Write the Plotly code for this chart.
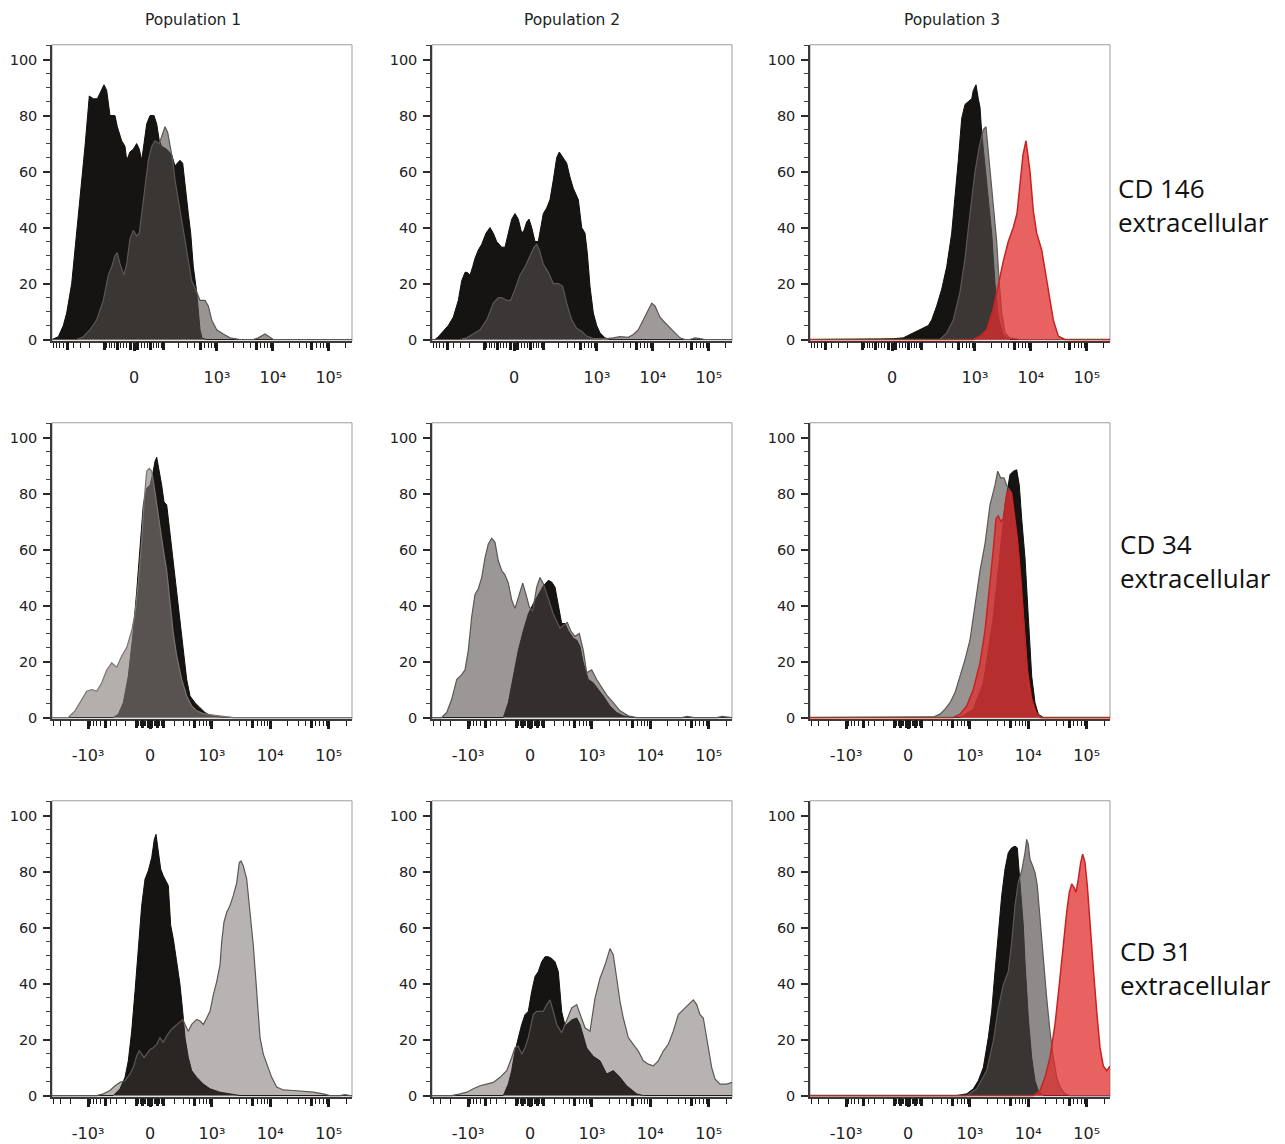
import numpy as np
import plotly.graph_objects as go

# ---------------- data (x = position on the biexponential display scale, 0-300 units; y = % of max) -------------
POP1_CD146_BLACK = [(0,0),(4,0.5),(6.3,1),(11.3,5),(14.7,9.5),(19.7,20),(24.7,38),(29.7,55),(33,69),(37.3,87),(41.3,86),(45.3,86),(49.7,89),(52,91),(54.7,89),(58,80),(63,80),(65.3,76),(69.7,71),(73,69),(74.7,64),(78,67),(81.3,68),(84.7,70),(87.3,68),(89.7,64),(92,70),(94.7,77),(98,80),(102,80),(104.7,77),(107.3,71),(109.7,69),(114.7,68),(119.7,66),(123,62),(125.3,63),(128,64),(130.7,63),(133,55),(136.3,45),(138.7,38),(141.3,26),(144.7,17),(148,3.5),(150,0.5),(155,0),(300,0)]
POP1_CD146_GRAY = [(0,0),(24.7,0),(31.3,1),(38,3.5),(44.7,7),(51.3,14),(56.3,23),(59.7,26),(63,30),(65.3,31),(68,27),(72,23),(74.7,27),(78,36),(81.3,39),(84.7,37),(87.3,38),(89.7,45),(93,55),(96.3,64),(99.7,69),(103,71),(107.3,70),(110.7,74),(113,76),(115.7,74),(118,70),(120.7,64),(123,57),(126.3,50),(129.7,43),(133,36),(136.3,29),(139.7,21),(144.7,17),(148,14),(153,14),(156.3,12),(159.7,7),(164.7,3.5),(171.3,2),(178,0.6),(188,0),(201.3,0),(206.3,0.6),(213,2),(218,0.8),(221.3,0),(300,0)]

POP2_CD146_BLACK = [(0,0),(3,0),(6.3,1),(11.3,3),(16.3,5),(21.3,8),(26.3,14),(29.7,21),(33,24),(35.3,24),(38,23),(40.7,26),(43,29),(46.3,32),(49.7,34),(54,38),(58,40),(61.3,38),(64.7,35),(69.7,33),(73,33),(76.3,38),(79.7,43),(83,45),(86.3,43),(89.7,38),(92,39),(94.7,42),(97,43),(99.7,40),(103,35),(106.3,35),(111.3,45),(114.7,47),(118,50),(121.3,57),(124.7,65),(127.3,67),(130.7,65),(134.7,63),(138,58),(141.3,54),(146.3,50),(149.7,40),(153,38),(155.3,31),(158,19),(161.3,9.5),(164.7,5),(168,2.4),(173,0.6),(178,0),(300,0)]
POP2_CD146_GRAY = [(0,0),(28,0),(34.7,0.6),(41.3,2),(48,3.5),(54.7,7),(61.3,13),(66.3,15),(69.7,15),(74.7,14),(78.7,14),(83,18),(88,23),(93,26),(98,30),(102,33),(104.7,34),(107.3,32),(111.3,27),(116.3,24),(121.3,20),(126.3,20),(130.7,19),(134.7,13),(139.7,7),(144.7,4),(149.7,3),(154.7,1.2),(161.3,0.3),(174.7,0.3),(181.3,0.6),(188,1),(196.3,0.8),(201.3,1.8),(206.3,3.5),(211.3,7),(216.3,11),(219.7,13),(223,12),(228,8),(233,6),(238,4),(243,2.4),(248,0.6),(253,0),(258,0),(263,0.6),(268,0.3),(273,0),(300,0)]

POP3_CD146_BLACK = [(0,0),(60,0),(70,0.2),(83.3,0.3),(93.3,0.6),(100,1.8),(106.7,3),(113.3,4),(118.3,5),(121.7,7),(126.7,12),(131.7,18),(136.7,26),(141.7,38),(145,50),(148.3,64),(151.7,79),(155,84),(158.3,85),(161.7,86),(163.3,89),(166,91),(168.3,86),(170,83),(171.7,74),(176.7,56),(181.7,38),(185,20),(188.3,8),(193.3,1.5),(200,0),(300,0)]
POP3_CD146_GRAY = [(0,0),(130,0),(136.7,2.4),(143.3,7),(150,17),(155,29),(160,45),(165,60),(169.3,69),(173.3,75),(176,76),(180,60),(183.3,48),(186.7,35),(189.3,20),(191.7,9.5),(195,2.4),(200,0.6),(210,0),(300,0)]
POP3_CD146_RED = [(0,0),(163.3,0),(170,1.2),(176.7,3.5),(183.3,11),(188.3,20),(193.3,28),(198.3,35),(203.3,40),(207,45),(210,55),(213,66),(216,71),(220,60),(223.3,46),(226.7,38),(231.7,32),(235,25),(239.3,17),(243.3,7),(248.3,1.2),(255,0),(300,0)]

POP1_CD34_BLACK = [(0,0),(61.3,0),(66.3,1.2),(71.3,5.3),(76.3,14.8),(81.3,31),(84.7,45),(88,62),(91.3,76),(94.7,82),(98,83),(100.7,87),(103,91.5),(104.7,93),(107.3,88),(109.7,83),(112,77),(114.7,76),(117.3,68),(120.7,57),(124,47),(127.3,36),(131.3,24),(134.7,13.6),(138,7.7),(143,5.3),(148,3.5),(153,1.8),(158,0.8),(168,0.2),(181.3,0),(300,0)]
POP1_CD34_GRAY = [(0,0),(16.3,0),(23,2.4),(29.7,6.5),(34.7,9.4),(39.7,10),(44.7,9.4),(49.7,12.4),(54.7,17),(59.7,19.5),(64.7,18),(69.7,22),(74.7,25),(79.7,31),(83,37),(86.3,48),(89.7,63),(92,77),(94.7,88),(97.3,89),(99.7,88),(102,83),(104.7,76),(108,68),(111.3,60),(114.7,52.5),(118,41),(121.3,30),(124.7,22),(129.7,13.6),(134.7,7.7),(139.7,4.1),(144.7,2.4),(151.3,1.4),(161.3,0.9),(168,0.6),(181.3,0),(300,0)]

POP2_CD34_BLACK = [(0,0),(71.3,0),(76.3,5.3),(81.3,14.8),(86.3,24),(91.3,31),(96.3,37),(101.3,40.7),(106.3,44),(111.3,47),(116.3,49),(119.7,48.4),(123,46.6),(126.3,40.7),(129.7,33.6),(133,33.6),(136.3,31),(141.3,28.3),(144.7,27.7),(148,25.4),(151.3,19.5),(156.3,13.6),(161.3,12.4),(166.3,10),(171.3,7.7),(178,4.1),(184.7,1.8),(191.3,0.6),(201.3,0),(300,0)]
POP2_CD34_GRAY = [(0,0),(9.7,0),(14.7,1.8),(19.7,6.5),(24.7,13.6),(29.7,15.3),(33,17),(36.3,24),(39.7,36),(43,44),(46.3,46),(49.7,50),(53,57),(56.3,62),(59.7,64),(63,62.6),(66.3,56),(69.7,52.5),(73,51),(76.3,48),(79.7,42),(83,39),(87.3,44),(90.7,48),(94,44),(97.3,39.5),(100.7,38),(104.7,46.6),(108,50),(111.3,47.8),(116.3,42.5),(121.3,37),(128,32),(132,33),(135.3,34),(138.7,31),(143,29),(147.3,30),(151.3,24),(154.7,16),(159.7,17),(164.7,13.6),(169.7,10.6),(174.7,8),(181.3,5.3),(188,2.4),(196.3,0.6),(204.7,0),(250,0),(255,0.4),(262,0),(285,0),(290,0.4),(296,0),(300,0)]

POP3_CD34_BLACK = [(0,0),(150,0),(163.3,3),(173.3,12.4),(183.3,36),(190,60),(195,76),(200,86.8),(203.3,88),(206.7,88.5),(209.3,83),(211.7,71),(215,57),(218.3,36),(221.7,14.8),(225,5.3),(228.3,1.2),(233.3,0),(300,0)]
POP3_CD34_GRAY = [(0,0),(116.7,0),(123.3,0.2),(130,1.2),(135,3),(140,5.3),(145,8.9),(150,14.8),(155,20.7),(160,27.7),(165,40.7),(170,52.5),(175,62),(180,76),(185,83),(187.7,88),(190.7,85.6),(194,85.6),(196.7,83),(199.3,81),(203.3,74),(208.3,60),(213.3,36),(218.3,12.4),(223.3,3),(230,0),(300,0)]
POP3_CD34_RED = [(0,0),(143.3,0),(150,1.2),(156.7,4.1),(163.3,10),(170,19.5),(175,31),(180,48),(183.3,60),(186,71),(188.3,72),(190.7,70),(193.3,71),(196.7,80),(199.3,81.5),(201.7,80),(204,74),(207.3,64),(210.7,50),(214,33.6),(217.3,17),(221.7,6.5),(226.7,1.2),(231.7,0),(300,0)]

POP1_CD31_BLACK = [(0,0),(61.3,0),(68,2.4),(73,6.5),(76.3,12.4),(79.7,23),(83,37.2),(86.3,53.7),(89.7,67.9),(93,77.3),(96.3,80.3),(99.7,85),(102.3,91.5),(104,93.3),(106.3,86.8),(108.7,80.9),(111.3,78.5),(116.3,75),(118.7,60.8),(121.3,56),(124.7,47.8),(128,39.6),(130.7,30.1),(133,20.7),(136.3,13.6),(139.7,8.9),(144.7,6.5),(151.3,4.1),(158,2.4),(168,1.2),(181.3,0.4),(188,0),(300,0)]
POP1_CD31_GRAY = [(0,0),(44.7,0),(51.3,0.6),(58,1.8),(63,3.5),(68,4.7),(73,5.3),(78,7.7),(81.3,10),(84.7,14.2),(87.3,16),(89.7,14.8),(92,13.6),(94.7,14.8),(98,16.5),(101.3,17.1),(104.7,18.3),(108,20.7),(111.3,19),(114.7,21.3),(118,23),(121.3,24.2),(124.7,25.4),(128,26.6),(130.7,27.2),(133,25.4),(136.3,23),(139.7,25.4),(144.7,27.2),(148,26.6),(151.3,25.4),(154.7,27.7),(158,30.1),(161.3,36),(164.7,40.7),(168,46.6),(169.7,54.9),(172,62),(174.7,65.5),(178,67.9),(181.3,71.4),(184.7,76),(187.3,83.2),(189,83.8),(191.3,82),(194.7,77.3),(198,66.7),(201.3,53.7),(204.7,37.2),(208,20.7),(211.3,14.8),(214.7,11.2),(219.7,6.5),(224.7,3),(231.3,2),(241.3,1.8),(251.3,1.5),(261.3,1.2),(271.3,0.6),(278,0),(288,0),(293,0.3),(298,0),(300,0)]

POP2_CD31_BLACK = [(0,0),(71.3,0),(76.3,4.1),(79.7,8.9),(83,15.9),(86.3,20.7),(89.7,25.4),(93,28.9),(96.3,30.1),(99.7,37.2),(103,42.5),(106.3,44.3),(109.7,47.8),(113,49.6),(116.3,49.6),(119.7,49),(123,47.8),(126.3,44.3),(129.7,30),(133,25),(134.7,25.4),(139.7,27),(144.7,27.7),(148,25.4),(154.7,17),(161.3,14),(168,12.4),(174.7,7.7),(181.3,8.9),(188,6.5),(194.7,3.5),(204.7,0.6),(211.3,0),(300,0)]
POP2_CD31_GRAY = [(0,0),(19.7,0),(28,0.6),(34.7,1.2),(41.3,2.4),(48,3.5),(54.7,4.1),(61.3,4.7),(68,6.5),(74.7,8.9),(79.7,13.6),(83,17.1),(86.3,17.7),(89.7,14.8),(93,17.1),(96.3,20.7),(101.3,28.9),(104.7,30.1),(108,30.1),(111.3,30.1),(114.7,32.5),(118,34.2),(121.3,30.1),(124.7,25.4),(129.7,22.4),(133,25.4),(136.3,28.9),(139.7,31.3),(144.7,32.5),(148,28.9),(153,24.2),(158,23),(163,34.8),(168,41.9),(173,46.6),(178,52.5),(181.3,50.2),(184.7,41.9),(188,33.6),(191.3,27.7),(196.3,20.7),(201.3,18.3),(206.3,15.9),(211.3,12.4),(216.3,11.2),(221.3,10.6),(226.3,12.4),(231.3,15.9),(236.3,18.3),(241.3,23),(246.3,28.9),(251.3,30.7),(256.3,32.5),(261.3,34.2),(264.7,32.5),(268,28.9),(271.3,27.7),(276.3,17.1),(279.7,10),(283,5.9),(288,4.1),(294.7,4.1),(300,4.7)]

POP3_CD31_BLACK = [(0,0),(146.7,0),(156.7,0.6),(163.3,2.4),(168.3,5.3),(173.3,10),(178.3,20.7),(181.7,30.1),(185,44.3),(188.3,57.3),(191.7,71.4),(195,80.9),(198.3,86.8),(201.7,88.5),(205,89.1),(207.3,88.5),(209.3,79.7),(211.7,69),(213.3,60.8),(215,47.8),(218.3,27.7),(221.7,13.6),(225,5.3),(228.3,1.8),(233.3,0),(300,0)]
POP3_CD31_GRAY = [(0,0),(156.7,0),(166.7,2.4),(176.7,8.9),(183.3,19.5),(188.3,31.3),(193.3,39.6),(198.3,44.3),(201.7,54.9),(205,67.9),(208.3,76.2),(211.7,80.3),(215,86.8),(216.7,91.5),(218.3,89.7),(220,84.4),(222.7,82),(225,79.7),(227.3,75),(230,63.2),(233.3,47.8),(236.7,34.8),(240,23),(243.3,13.6),(246.7,6.5),(250,3),(255,0.6),(260,0),(300,0)]
POP3_CD31_RED = [(0,0),(223.3,0),(230,1.8),(235,6.5),(240,13.6),(245,25.4),(249.3,39.6),(253.3,54.9),(256.7,65.5),(259.3,72.6),(261.7,75.6),(264,74.4),(266,72.6),(268.3,77.3),(270.7,83.2),(272.7,86.2),(275,83.2),(277.3,75),(280,63.2),(283.3,45.5),(286.7,30.1),(290,17.1),(293.3,10.6),(296.7,8.9),(300,10.5)]

POPULATIONS = ["Population 1", "Population 2", "Population 3"]
MARKERS = ["CD 146<br>extracellular", "CD 34<br>extracellular", "CD 31<br>extracellular"]
Y_TICKS = [0, 20, 40, 60, 80, 100]
X_TICK_LABELS_ROW1 = {0: "0", 1e3: "10³", 1e4: "10⁴", 1e5: "10⁵"}
X_TICK_LABELS_ROW23 = {-1e3: "-10³", 0: "0", 1e3: "10³", 1e4: "10⁴", 1e5: "10⁵"}

# ---------------- styling ----------------
W, H = 1285, 1144
COL_LEFT = [52, 432, 810]
ROW_TOP = [45, 425, 805]
PW, PH = 300, 298
# biexponential display parameters per row: (position of 0, units per e-fold, linear width)
ROW_SCALE = [(82, 24.3, 33), (98, 25.4, 88), (98, 25.4, 88)]

BLACK = dict(fill="rgb(22,20,19)", line="rgb(16,14,13)", width=1)
RED = dict(fill="rgba(224,45,45,0.75)", line="rgb(205,32,32)", width=1.5)
def gray(r, g, b, a, line="rgb(92,87,85)"):
    return dict(fill=f"rgba({r},{g},{b},{a})", line=line, width=1.2)

PANELS = {
    (0, 0): [(POP1_CD146_BLACK, BLACK), (POP1_CD146_GRAY, gray(82, 76, 74, 0.6))],
    (0, 1): [(POP2_CD146_BLACK, BLACK), (POP2_CD146_GRAY, gray(87, 81, 79, 0.58))],
    (0, 2): [(POP3_CD146_BLACK, BLACK), (POP3_CD146_GRAY, gray(79, 73, 71, 0.665)), (POP3_CD146_RED, RED)],
    (1, 0): [(POP1_CD34_BLACK, BLACK), (POP1_CD34_GRAY, gray(130, 124, 121, 0.61, "rgb(120,115,112)"))],
    (1, 1): [(POP2_CD34_BLACK, BLACK), (POP2_CD34_GRAY, gray(76, 70, 68, 0.56))],
    (1, 2): [(POP3_CD34_BLACK, BLACK), (POP3_CD34_GRAY, gray(82, 76, 74, 0.6)), (POP3_CD34_RED, RED)],
    (2, 0): [(POP1_CD31_BLACK, BLACK), (POP1_CD31_GRAY, gray(72, 66, 63, 0.40))],
    (2, 1): [(POP2_CD31_BLACK, BLACK), (POP2_CD31_GRAY, gray(72, 66, 63, 0.40))],
    (2, 2): [(POP3_CD31_BLACK, BLACK), (POP3_CD31_GRAY, gray(78, 72, 70, 0.64)), (POP3_CD31_RED, RED)],
}

def disp(v, row):
    c, b, w = ROW_SCALE[row]
    return float(c + b * np.arcsinh(float(v) / (2 * w)))

def x_ticks(row):
    labels = X_TICK_LABELS_ROW1 if row == 0 else X_TICK_LABELS_ROW23
    thick = [0.0] + [s * m * 10 ** k for s in (1, -1) for m in (1, 5) for k in range(1, 6)]
    thin = [s * m * 10 ** k for s in (1, -1) for m in (2, 3, 4, 6, 7, 8, 9) for k in range(1, 6)]
    lab_v, lab_t, thick_v = [], [], []
    for v in sorted(set(thick)):
        d = disp(v, row)
        if not (0 <= d <= PW):
            continue
        if v in labels:
            lab_v.append(d)
            lab_t.append(labels[v])
        else:
            thick_v.append(d)
    thin_v = [disp(v, row) for v in thin if 0 <= disp(v, row) <= PW]
    return lab_v, lab_t, thick_v, thin_v

FONT = "DejaVu Sans"
fig = go.Figure()
layout = {}
for r in range(3):
    lab_v, lab_t, thick_v, thin_v = x_ticks(r)
    for c in range(3):
        idx = r * 3 + c + 1
        sfx = "" if idx == 1 else str(idx)
        osfx = str(idx + 9)
        for curve, st in PANELS[(r, c)]:
            xs, ys = zip(*curve)
            fig.add_trace(go.Scatter(
                x=xs, y=ys, xaxis="x" + sfx, yaxis="y" + sfx, mode="lines",
                fill="tozeroy", fillcolor=st["fill"],
                line=dict(color=st["line"], width=st["width"]),
                hoverinfo="skip", showlegend=False))
        # empty trace that carries the overlay axis for unlabeled thick ticks
        fig.add_trace(go.Scatter(x=[], y=[], xaxis="x" + osfx, yaxis="y" + sfx,
                                 mode="lines", hoverinfo="skip", showlegend=False))
        x0 = COL_LEFT[c] / W
        x1 = (COL_LEFT[c] + PW) / W
        y1 = 1 - ROW_TOP[r] / H
        y0 = 1 - (ROW_TOP[r] + PH) / H
        layout["xaxis" + sfx] = dict(
            domain=[x0, x1], anchor="y" + sfx, range=[0, PW], showgrid=False, zeroline=False,
            showline=True, linecolor="#3a3a3a", linewidth=1.5,
            tickmode="array", tickvals=lab_v, ticktext=lab_t, ticks="outside", ticklen=8, tickwidth=3,
            tickcolor="#1a1a1a", ticklabelstandoff=13,
            tickfont=dict(family=FONT, size=16, color="#222"),
            minor=dict(tickmode="array", tickvals=thin_v, ticks="outside", ticklen=5, tickwidth=1, tickcolor="#1a1a1a"),
            fixedrange=True)
        layout["xaxis" + osfx] = dict(
            overlaying="x" + sfx, anchor="y" + sfx, side="bottom", range=[0, PW],
            showgrid=False, zeroline=False, showline=False, showticklabels=False,
            tickmode="array", tickvals=thick_v, ticks="outside", ticklen=8, tickwidth=3,
            tickcolor="#1a1a1a", fixedrange=True)
        layout["yaxis" + sfx] = dict(
            domain=[y0, y1], anchor="x" + sfx, range=[-0.6, 105.3], showgrid=False, zeroline=False,
            showline=True, linecolor="#3a3a3a", linewidth=1.5,
            tickmode="array", tickvals=Y_TICKS, ticks="outside", ticklen=7, tickwidth=1.5,
            tickcolor="#2a2a2a", tickfont=dict(family=FONT, size=14.5, color="#222"),
            ticklabelstandoff=3,
            minor=dict(dtick=5, ticks="outside", ticklen=4, tickwidth=1, tickcolor="#444"),
            fixedrange=True)

shapes = []
for idx in range(1, 10):
    sfx = "" if idx == 1 else str(idx)
    shapes.append(dict(type="rect", xref=f"x{sfx} domain", yref=f"y{sfx} domain",
                       x0=0, x1=1, y0=0, y1=1, line=dict(color="#9d9d9d", width=1), layer="below"))

annotations = []
TITLE_X = [193, 572, 952]
for c in range(3):
    annotations.append(dict(text=POPULATIONS[c], x=TITLE_X[c] / W, y=1 - 20 / H, xref="paper", yref="paper",
                            xanchor="center", yanchor="middle", showarrow=False,
                            font=dict(family=FONT, size=15.5, color="#222")))
LABEL_POS = [(1116, 206), (1118, 564), (1118, 973)]
for r in range(3):
    lx, ly = LABEL_POS[r]
    annotations.append(dict(text=MARKERS[r], x=lx / W, y=1 - ly / H, xref="paper", yref="paper",
                            xanchor="left", yanchor="middle", align="left", showarrow=False,
                            font=dict(family="Open Sans", size=26, color="#111")))

fig.update_layout(width=W, height=H, margin=dict(l=0, r=0, t=0, b=0),
                  paper_bgcolor="white", plot_bgcolor="white",
                  shapes=shapes, annotations=annotations, **layout)
fig.write_html("out.html")
